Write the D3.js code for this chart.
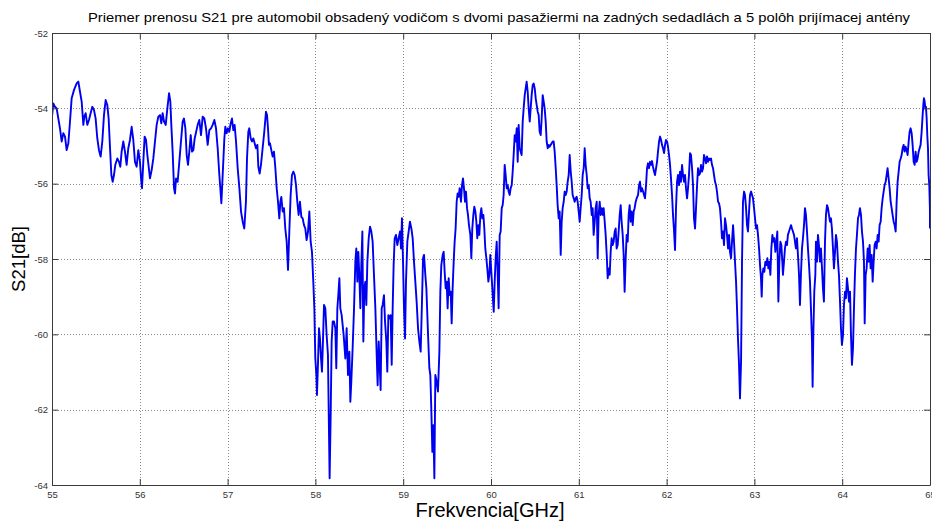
<!DOCTYPE html>
<html>
<head>
<meta charset="utf-8">
<script src="https://cdn.jsdelivr.net/npm/d3@7"></script>
<style>
  html, body { margin: 0; padding: 0; background: #fff; }
  svg { display: block; font-family: Arial, "Liberation Sans", Helvetica, sans-serif; }
</style>
</head>
<body>
<svg id="chart" width="932" height="522"></svg>
<script>
// Axis ticks
const xTicks = [55, 56, 57, 58, 59, 60, 61, 62, 63, 64, 65];
const yTicks = [-64, -62, -60, -58, -56, -54, -52];

// Labels
const titleText = "Priemer prenosu S21 pre automobil obsadený vodičom s dvomi pasažiermi na zadných sedadlách a 5 polôh prijímacej antény";
const xLabel = "Frekvencia[GHz]";
const yLabel = "S21[dB]";

// Measured transmission S21: [frequency GHz, S21 dB]
const s21Trace = [
  [55.000,-54.22],[55.015,-53.87],[55.034,-53.96],[55.053,-54.00],[55.072,-54.27],[55.091,-54.53],[55.110,-54.88],[55.129,-54.66],[55.148,-54.75],[55.167,-55.11],
  [55.186,-54.93],[55.205,-54.35],[55.224,-53.73],[55.251,-53.51],[55.281,-53.34],[55.300,-53.29],[55.319,-53.56],[55.338,-53.82],[55.357,-54.44],[55.368,-54.22],
  [55.383,-54.13],[55.402,-54.44],[55.421,-54.31],[55.440,-54.13],[55.459,-53.96],[55.478,-54.04],[55.497,-54.27],[55.516,-54.80],[55.535,-55.11],[55.554,-55.28],
  [55.573,-54.88],[55.592,-54.18],[55.611,-53.78],[55.630,-53.91],[55.645,-54.27],[55.661,-55.06],[55.676,-55.77],[55.691,-55.95],[55.706,-55.77],[55.721,-55.50],
  [55.744,-55.33],[55.763,-55.42],[55.778,-55.55],[55.793,-55.15],[55.812,-54.88],[55.831,-55.15],[55.850,-55.50],[55.869,-55.06],[55.888,-54.84],[55.907,-54.49],
  [55.926,-54.84],[55.945,-55.42],[55.964,-55.55],[55.983,-55.11],[56.002,-55.42],[56.014,-55.86],[56.025,-56.12],[56.040,-55.42],[56.055,-54.75],[56.071,-54.84],
  [56.086,-55.24],[56.101,-55.55],[56.116,-55.86],[56.135,-55.64],[56.154,-55.33],[56.173,-54.88],[56.192,-54.44],[56.211,-54.22],[56.230,-54.18],[56.245,-54.40],
  [56.260,-54.13],[56.276,-54.35],[56.295,-54.44],[56.314,-54.00],[56.333,-53.60],[56.348,-53.82],[56.359,-54.44],[56.374,-55.15],[56.390,-56.12],[56.401,-56.26],
  [56.413,-55.86],[56.431,-55.95],[56.450,-55.42],[56.469,-54.88],[56.488,-54.35],[56.503,-54.27],[56.519,-54.53],[56.534,-55.24],[56.549,-55.50],[56.564,-55.15],
  [56.580,-54.71],[56.595,-55.15],[56.610,-55.11],[56.625,-54.80],
  [56.659,-54.44],[56.678,-54.31],[56.697,-54.71],[56.716,-54.22],[56.735,-54.27],[56.754,-54.53],[56.773,-54.97],[56.792,-54.58],[56.811,-54.53],[56.830,-54.44],
  [56.849,-54.31],[56.868,-54.53],[56.887,-55.06],[56.906,-55.77],[56.917,-56.12],[56.929,-56.52],[56.944,-55.77],[56.963,-54.80],[56.974,-54.49],[56.989,-54.66],
  [57.004,-54.53],[57.020,-54.62],[57.035,-54.40],[57.050,-54.27],[57.065,-54.58],[57.080,-54.44],[57.096,-54.88],[57.115,-55.59],[57.134,-56.12],[57.153,-56.74],
  [57.172,-57.01],[57.190,-57.19],[57.209,-56.48],[57.221,-55.33],[57.236,-54.62],[57.247,-54.53],[57.263,-54.80],[57.278,-54.88],[57.293,-54.80],[57.308,-54.93],
  [57.323,-55.06],[57.339,-54.97],[57.350,-55.55],[57.365,-55.73],[57.380,-55.50],[57.399,-55.06],[57.418,-54.62],[57.437,-54.09],[57.449,-54.18],[57.460,-54.53],
  [57.471,-54.97],[57.483,-54.93],[57.498,-55.11],[57.513,-55.28],[57.528,-55.15],[57.544,-55.59],[57.559,-56.12],[57.574,-56.48],[57.589,-56.92],[57.601,-56.48],
  [57.612,-56.35],[57.627,-56.74],[57.642,-56.65],[57.657,-57.19],[57.673,-57.54],[57.688,-58.29],[57.703,-57.27],[57.718,-56.30],[57.733,-55.77],[57.749,-55.68],
  [57.764,-55.77],[57.779,-56.04],[57.794,-56.48],[57.809,-56.83],[57.824,-56.48],[57.840,-56.88],[57.855,-56.92],[57.870,-57.10],[57.885,-57.19],[57.900,-57.50],
  [57.916,-57.27],[57.931,-56.74],[57.946,-57.54],[57.961,-57.81],[57.976,-58.60],[57.988,-59.31],[57.999,-60.64],[58.011,-61.08],[58.018,-61.61],[58.030,-60.73],
  [58.041,-59.84],[58.052,-60.11],[58.064,-60.64],[58.075,-60.99],[58.086,-60.19],[58.098,-59.22],[58.113,-59.31],[58.128,-60.02],[58.143,-60.55],[58.151,-61.96],
  [58.162,-63.82],[58.174,-62.14],[58.185,-60.19],[58.197,-59.66],[58.212,-59.66],[58.227,-59.84],[58.238,-60.90],[58.250,-59.31],[58.261,-58.96],[58.273,-58.51],
  [58.284,-59.31],[58.299,-59.49],
  [58.322,-60.02],[58.341,-60.64],[58.356,-59.84],[58.371,-61.08],[58.387,-60.46],[58.398,-61.79],[58.409,-61.26],[58.424,-60.37],[58.440,-59.31],[58.455,-58.07],
  [58.466,-57.72],[58.478,-58.60],[58.489,-57.81],[58.500,-58.42],[58.512,-59.31],[58.523,-58.16],[58.535,-57.27],[58.546,-60.19],[58.557,-58.78],[58.569,-58.60],
  [58.580,-59.22],[58.592,-58.07],[58.607,-57.45],[58.622,-57.14],[58.637,-57.27],[58.652,-57.54],[58.667,-58.42],[58.683,-59.31],[58.698,-60.55],[58.709,-61.35],
  [58.721,-60.19],[58.732,-60.81],[58.743,-61.48],[58.755,-59.31],[58.766,-59.22],[58.781,-58.96],[58.793,-59.66],[58.808,-60.19],[58.819,-60.99],[58.831,-59.49],
  [58.842,-59.58],[58.857,-59.49],[58.869,-60.81],[58.880,-59.31],[58.891,-58.16],[58.903,-57.45],[58.918,-57.36],[58.933,-57.63],[58.948,-57.45],[58.964,-57.27],
  [58.975,-57.72],[58.986,-56.92],[58.998,-58.07],[59.009,-59.31],[59.021,-60.11],[59.032,-58.60],[59.047,-57.54],[59.062,-57.27],[59.077,-57.01],[59.093,-57.19],
  [59.108,-57.45],[59.123,-58.07],[59.138,-58.60],[59.153,-59.13],[59.169,-59.84],[59.184,-60.19],[59.199,-60.46],[59.214,-59.13],[59.226,-57.98],[59.237,-57.89],
  [59.252,-58.42],[59.264,-58.78],[59.275,-59.49],[59.286,-60.19],[59.298,-60.90],[59.309,-61.08],[59.320,-61.96],[59.332,-63.12],[59.343,-62.41],[59.355,-63.82],
  [59.366,-61.08],[59.381,-61.26],[59.396,-61.52],[59.412,-60.46],[59.423,-58.87],[59.434,-58.16],[59.450,-57.89],[59.461,-57.81],[59.472,-58.34],[59.484,-58.78],
  [59.495,-58.60],[59.506,-59.31],[59.518,-58.51],[59.529,-58.96],[59.541,-58.87],[59.552,-59.71],[59.563,-58.78],[59.575,-58.07],[59.586,-57.54],[59.597,-57.19],
  [59.609,-56.48],[59.620,-56.26],[59.632,-56.35],[59.643,-56.12],[59.658,-56.48],[59.670,-56.04],[59.681,-55.86],[59.692,-56.12],[59.704,-56.48],[59.715,-56.21],
  [59.727,-56.65],[59.738,-56.83],[59.749,-57.10],[59.765,-57.36],[59.776,-57.98],[59.787,-57.19],[59.799,-56.83],[59.810,-56.61],[59.822,-56.74],[59.833,-57.01],
  [59.844,-57.45],[59.856,-57.10],[59.867,-57.36],[59.879,-56.83],[59.890,-56.65],[59.901,-56.92],[59.913,-56.83],[59.924,-57.19],[59.935,-57.72],[59.947,-57.98],
  [59.958,-58.25],[59.970,-58.60],[59.981,-58.42],[59.992,-57.89],
  [60.031,-59.40],[60.042,-58.60],[60.053,-57.98],[60.065,-57.54],[60.076,-58.42],[60.087,-59.31],[60.099,-57.36],[60.110,-57.27],[60.122,-56.65],[60.133,-56.57],
  [60.144,-56.30],[60.156,-55.50],[60.167,-55.77],[60.179,-56.12],[60.190,-56.04],[60.201,-56.21],[60.213,-56.30],[60.224,-56.12],[60.236,-56.04],[60.247,-55.68],
  [60.258,-55.24],[60.270,-54.71],[60.281,-54.88],[60.293,-54.53],[60.304,-55.42],[60.315,-54.44],[60.327,-55.06],[60.338,-55.15],[60.349,-55.24],[60.361,-54.35],
  [60.372,-54.00],[60.384,-53.65],[60.395,-53.47],[60.406,-53.29],[60.418,-53.56],[60.429,-54.00],[60.441,-54.35],[60.452,-54.00],[60.463,-53.65],[60.475,-53.38],
  [60.486,-53.34],[60.498,-53.47],[60.509,-53.73],[60.520,-53.91],[60.532,-54.09],[60.543,-54.18],[60.554,-54.62],[60.566,-54.71],[60.577,-54.27],[60.589,-53.65],
  [60.600,-53.82],[60.611,-54.00],[60.623,-54.35],[60.634,-54.88],[60.646,-55.06],[60.657,-54.97],[60.668,-55.02],[60.680,-54.97],[60.691,-54.93],[60.703,-54.88],
  [60.714,-54.88],[60.725,-55.15],[60.737,-55.59],[60.748,-56.04],[60.759,-56.57],[60.771,-56.92],[60.782,-56.74],[60.794,-57.89],[60.805,-57.01],[60.816,-56.65],
  [60.828,-56.48],[60.839,-56.21],[60.851,-56.30],[60.862,-56.21],[60.873,-55.95],[60.885,-55.77],[60.896,-55.24],[60.908,-55.68],[60.919,-55.95],[60.930,-56.30],
  [60.942,-56.39],[60.953,-56.48],[60.964,-56.39],[60.976,-56.35],[60.987,-56.48],[60.999,-56.74],[61.010,-57.01],[61.021,-56.65],[61.033,-56.30],[61.044,-55.77],
  [61.056,-55.59],[61.067,-55.06],[61.078,-55.50],[61.090,-55.77],[61.101,-56.12],[61.113,-56.04],[61.124,-56.39],[61.135,-56.48],[61.147,-56.83],[61.158,-56.65],
  [61.169,-57.36],[61.181,-57.01],[61.192,-56.65],[61.204,-56.48],[61.215,-57.98],[61.226,-56.83],[61.238,-56.48],[61.249,-56.83],[61.261,-56.65],[61.272,-56.83],
  [61.283,-56.65],[61.295,-57.01],[61.306,-57.36],[61.318,-57.89],[61.329,-58.51],[61.340,-58.25],[61.352,-58.42],[61.363,-57.81],[61.374,-57.45],[61.386,-57.63],
  [61.397,-57.54],[61.409,-57.27],[61.420,-57.19],[61.431,-57.72],[61.443,-57.63],[61.454,-57.27],[61.466,-56.83],[61.477,-56.57],[61.488,-57.01],[61.500,-57.36],
  [61.511,-57.89],[61.522,-58.87],[61.534,-57.98],[61.545,-57.36],[61.557,-57.54],[61.568,-56.83],[61.579,-56.57],[61.591,-57.01],[61.602,-56.74],[61.614,-57.10],
  [61.625,-56.74],[61.636,-56.65],[61.648,-56.48],[61.659,-56.39],
  [61.675,-56.30],[61.686,-56.04],[61.697,-55.95],[61.709,-56.21],[61.720,-56.12],[61.732,-56.21],[61.743,-56.30],[61.754,-56.39],[61.766,-56.04],[61.777,-55.59],
  [61.788,-55.46],[61.800,-55.59],[61.811,-55.42],[61.823,-55.50],[61.834,-55.40],[61.845,-55.55],[61.857,-55.68],[61.868,-55.77],[61.880,-55.59],[61.891,-55.42],
  [61.902,-55.15],[61.914,-54.88],[61.925,-54.75],[61.937,-54.84],[61.948,-54.97],[61.959,-55.06],[61.971,-55.19],[61.982,-54.97],[61.993,-54.84],[62.005,-54.88],
  [62.016,-55.02],[62.028,-55.24],[62.039,-55.50],[62.050,-55.86],[62.062,-56.30],[62.073,-56.83],[62.085,-57.27],[62.096,-57.76],[62.107,-56.65],[62.119,-55.95],
  [62.130,-55.77],[62.142,-56.04],[62.153,-55.68],[62.164,-55.95],[62.176,-55.50],[62.187,-55.77],[62.199,-55.95],[62.210,-55.77],[62.221,-56.12],[62.233,-56.39],
  [62.244,-56.12],[62.255,-55.77],[62.267,-55.19],[62.278,-55.24],[62.290,-55.59],[62.301,-56.04],[62.312,-56.92],[62.324,-57.19],[62.335,-56.65],[62.347,-56.04],
  [62.358,-55.59],[62.369,-55.77],[62.381,-55.73],[62.392,-55.50],[62.403,-55.68],[62.415,-55.59],[62.426,-55.24],[62.438,-55.33],[62.449,-55.46],[62.460,-55.28],
  [62.472,-55.42],[62.483,-55.33],[62.495,-55.37],[62.506,-55.33],[62.517,-55.50],[62.529,-55.59],[62.540,-55.77],[62.552,-55.95],[62.563,-56.04],[62.574,-56.21],
  [62.586,-56.48],[62.597,-56.52],[62.608,-56.65],[62.620,-57.01],[62.631,-57.45],[62.643,-57.27],[62.654,-57.63],[62.665,-56.92],[62.677,-57.10],[62.688,-57.36],
  [62.700,-57.72],[62.711,-57.36],[62.722,-57.81],[62.734,-57.98],[62.745,-57.54],[62.757,-57.10],[62.768,-57.54],[62.779,-58.07],[62.791,-58.60],[62.802,-59.31],
  [62.813,-60.11],[62.825,-60.81],[62.836,-61.70],[62.848,-60.73],[62.859,-58.07],[62.870,-56.48],[62.882,-56.21],[62.893,-56.30],[62.905,-56.65],[62.916,-57.10],
  [62.927,-57.27],[62.939,-56.74],[62.950,-56.30],[62.962,-56.21],[62.973,-56.30],[62.984,-56.39],[62.996,-56.65],[63.007,-56.92],[63.019,-57.19],[63.030,-57.10],
  [63.041,-57.36],[63.053,-57.72],[63.064,-58.16],[63.075,-58.51],[63.083,-59.00],[63.091,-58.42],[63.102,-58.25],[63.113,-58.34],[63.125,-58.07],[63.136,-58.16],
  [63.148,-57.98],[63.159,-58.25],[63.170,-58.07],[63.182,-58.42],[63.193,-57.72],[63.205,-57.36],[63.216,-57.54],[63.227,-57.45],[63.239,-57.81],[63.250,-57.54],
  [63.261,-57.27],[63.273,-59.13],[63.284,-58.07],[63.296,-57.54],[63.307,-57.63],[63.318,-58.07],
  [63.325,-58.42],[63.337,-58.07],[63.348,-57.72],[63.360,-57.54],[63.371,-57.63],[63.382,-57.36],[63.394,-57.27],[63.405,-57.19],[63.417,-57.10],[63.428,-57.19],
  [63.439,-57.27],[63.451,-57.36],[63.462,-57.54],[63.473,-57.72],[63.485,-57.45],[63.496,-57.89],[63.508,-58.42],[63.519,-59.22],[63.530,-58.42],[63.542,-57.72],
  [63.553,-57.45],[63.565,-57.10],[63.576,-56.65],[63.587,-56.83],[63.599,-57.27],[63.610,-57.72],[63.622,-58.16],[63.633,-58.60],[63.644,-59.31],[63.656,-60.19],
  [63.663,-61.39],[63.671,-60.02],[63.682,-58.87],[63.694,-58.42],[63.701,-57.54],[63.713,-58.07],[63.724,-57.36],[63.735,-57.63],[63.747,-58.07],[63.758,-57.72],
  [63.770,-58.25],[63.781,-58.78],[63.792,-59.13],[63.804,-57.54],[63.815,-56.83],[63.827,-56.57],[63.838,-56.65],[63.849,-56.83],[63.861,-57.01],[63.872,-56.92],
  [63.883,-57.19],[63.895,-57.72],[63.906,-58.25],[63.918,-57.81],[63.929,-57.36],[63.940,-57.54],[63.952,-58.07],[63.963,-58.42],[63.975,-59.13],[63.986,-59.84],
  [63.997,-60.28],[64.009,-60.02],[64.020,-59.22],[64.032,-58.87],[64.043,-59.04],[64.054,-58.51],[64.066,-58.78],[64.077,-59.13],[64.089,-58.87],[64.100,-60.02],
  [64.111,-60.81],[64.123,-60.37],[64.134,-59.31],[64.145,-58.42],[64.157,-57.72],[64.168,-57.36],[64.180,-56.92],[64.191,-56.83],[64.202,-56.65],[64.214,-56.83],
  [64.225,-57.27],[64.237,-57.54],[64.248,-58.07],[64.256,-59.71],[64.267,-58.42],[64.278,-58.25],[64.290,-57.72],[64.301,-58.07],[64.312,-57.63],[64.324,-58.25],
  [64.335,-57.89],[64.347,-58.60],[64.358,-58.07],[64.369,-57.63],[64.381,-57.54],[64.392,-57.72],[64.404,-57.36],[64.415,-57.54],[64.426,-57.10],[64.438,-57.01],
  [64.449,-56.65],[64.461,-56.39],[64.472,-56.21],[64.483,-56.04],[64.495,-55.95],[64.506,-55.77],[64.517,-55.59],[64.529,-55.86],[64.540,-56.12],[64.552,-56.48],
  [64.563,-56.65],[64.574,-56.83],[64.586,-57.01],[64.597,-57.10],[64.609,-57.27],[64.620,-56.48],[64.631,-55.95],[64.643,-55.68],[64.654,-55.42],[64.666,-55.33],
  [64.677,-55.24],[64.688,-55.06],[64.700,-54.97],[64.711,-55.15],[64.722,-55.02],[64.734,-55.11],[64.745,-55.24],[64.757,-54.88],[64.768,-54.62],[64.779,-54.53],
  [64.791,-54.66],[64.802,-54.97],[64.814,-55.42],[64.825,-55.50],[64.836,-55.15],[64.848,-55.42],[64.859,-55.33],[64.871,-55.15],[64.882,-55.06],[64.893,-54.97],
  [64.905,-54.62],[64.916,-54.18],[64.924,-53.91],[64.931,-53.73],[64.939,-53.82],[64.947,-54.00],[64.954,-53.96],[64.962,-54.27],[64.969,-54.71],[64.977,-55.06],
  [64.984,-55.77],[64.992,-56.04],[64.999,-56.65],[65.000,-57.19]
];

const svg = d3.select("#chart");
const W = 932, H = 522;
const plot = { left: 52, right: 930, top: 33, bottom: 485 };

const x = d3.scaleLinear().domain([55, 65]).range([plot.left, plot.right]);
const y = d3.scaleLinear().domain([-64, -52]).range([plot.bottom, plot.top]);

svg.append("rect").attr("width", W).attr("height", H).attr("fill", "#fff");

// Dotted grid
const grid = svg.append("g").attr("stroke", "#8a8a8a").attr("stroke-width", 1)
  .attr("stroke-dasharray", "1,2").attr("fill", "none");
grid.selectAll("line.gx").data(xTicks.slice(1, -1)).join("line")
  .attr("x1", d => Math.round(x(d)) + 0.5).attr("x2", d => Math.round(x(d)) + 0.5)
  .attr("y1", plot.top).attr("y2", plot.bottom);
grid.selectAll("line.gy").data(yTicks.slice(1, -1)).join("line")
  .attr("x1", plot.left).attr("x2", plot.right)
  .attr("y1", d => Math.round(y(d)) + 0.5).attr("y2", d => Math.round(y(d)) + 0.5);

// Data trace, clipped to the axes box
svg.append("clipPath").attr("id", "plotClip").append("rect")
  .attr("x", plot.left).attr("y", plot.top)
  .attr("width", plot.right - plot.left).attr("height", plot.bottom - plot.top);

const line = d3.line().x(d => x(d[0])).y(d => y(d[1]));
svg.append("path").datum(s21Trace)
  .attr("clip-path", "url(#plotClip)")
  .attr("fill", "none").attr("stroke", "#0000f0").attr("stroke-width", 1.9)
  .attr("stroke-linejoin", "round").attr("d", line);

// Axes with inward ticks (box style)
const tickLen = 6;
const axisColor = "#3a3a3a";
function styleAxis(g) {
  g.selectAll(".domain").attr("stroke", axisColor);
  g.selectAll(".tick line").attr("stroke", axisColor);
  g.selectAll(".tick text").attr("fill", "#333").attr("font-size", 9.5)
    .attr("font-family", "Arial, 'Liberation Sans', sans-serif");
}

svg.append("g").attr("transform", `translate(0,${plot.bottom})`)
  .call(d3.axisBottom(x).tickValues(xTicks).tickFormat(d3.format("d"))
    .tickSizeInner(-tickLen).tickSizeOuter(0).tickPadding(6))
  .call(styleAxis);
svg.append("g").attr("transform", `translate(0,${plot.top})`)
  .call(d3.axisTop(x).tickValues(xTicks).tickFormat("")
    .tickSizeInner(-tickLen).tickSizeOuter(0))
  .call(styleAxis);
svg.append("g").attr("transform", `translate(${plot.left},0)`)
  .call(d3.axisLeft(y).tickValues(yTicks).tickFormat(d => d3.format("d")(d).replace("−", "-"))
    .tickSizeInner(-tickLen).tickSizeOuter(0).tickPadding(4))
  .call(styleAxis);
svg.append("g").attr("transform", `translate(${plot.right},0)`)
  .call(d3.axisRight(y).tickValues(yTicks).tickFormat("")
    .tickSizeInner(-tickLen).tickSizeOuter(0))
  .call(styleAxis);

// Title and axis labels
svg.append("text").attr("x", 499).attr("y", 22)
  .attr("text-anchor", "middle").attr("font-size", 13.5).attr("fill", "#000")
  .attr("textLength", 822).attr("lengthAdjust", "spacingAndGlyphs")
  .text(titleText);
svg.append("text").attr("x", 490).attr("y", 517)
  .attr("text-anchor", "middle").attr("font-size", 20).attr("fill", "#000")
  .text(xLabel);
svg.append("text").attr("transform", `translate(25,${(plot.top + plot.bottom) / 2}) rotate(-90)`)
  .attr("text-anchor", "middle").attr("font-size", 18.5).attr("fill", "#000")
  .text(yLabel);
</script>
</body>
</html>
